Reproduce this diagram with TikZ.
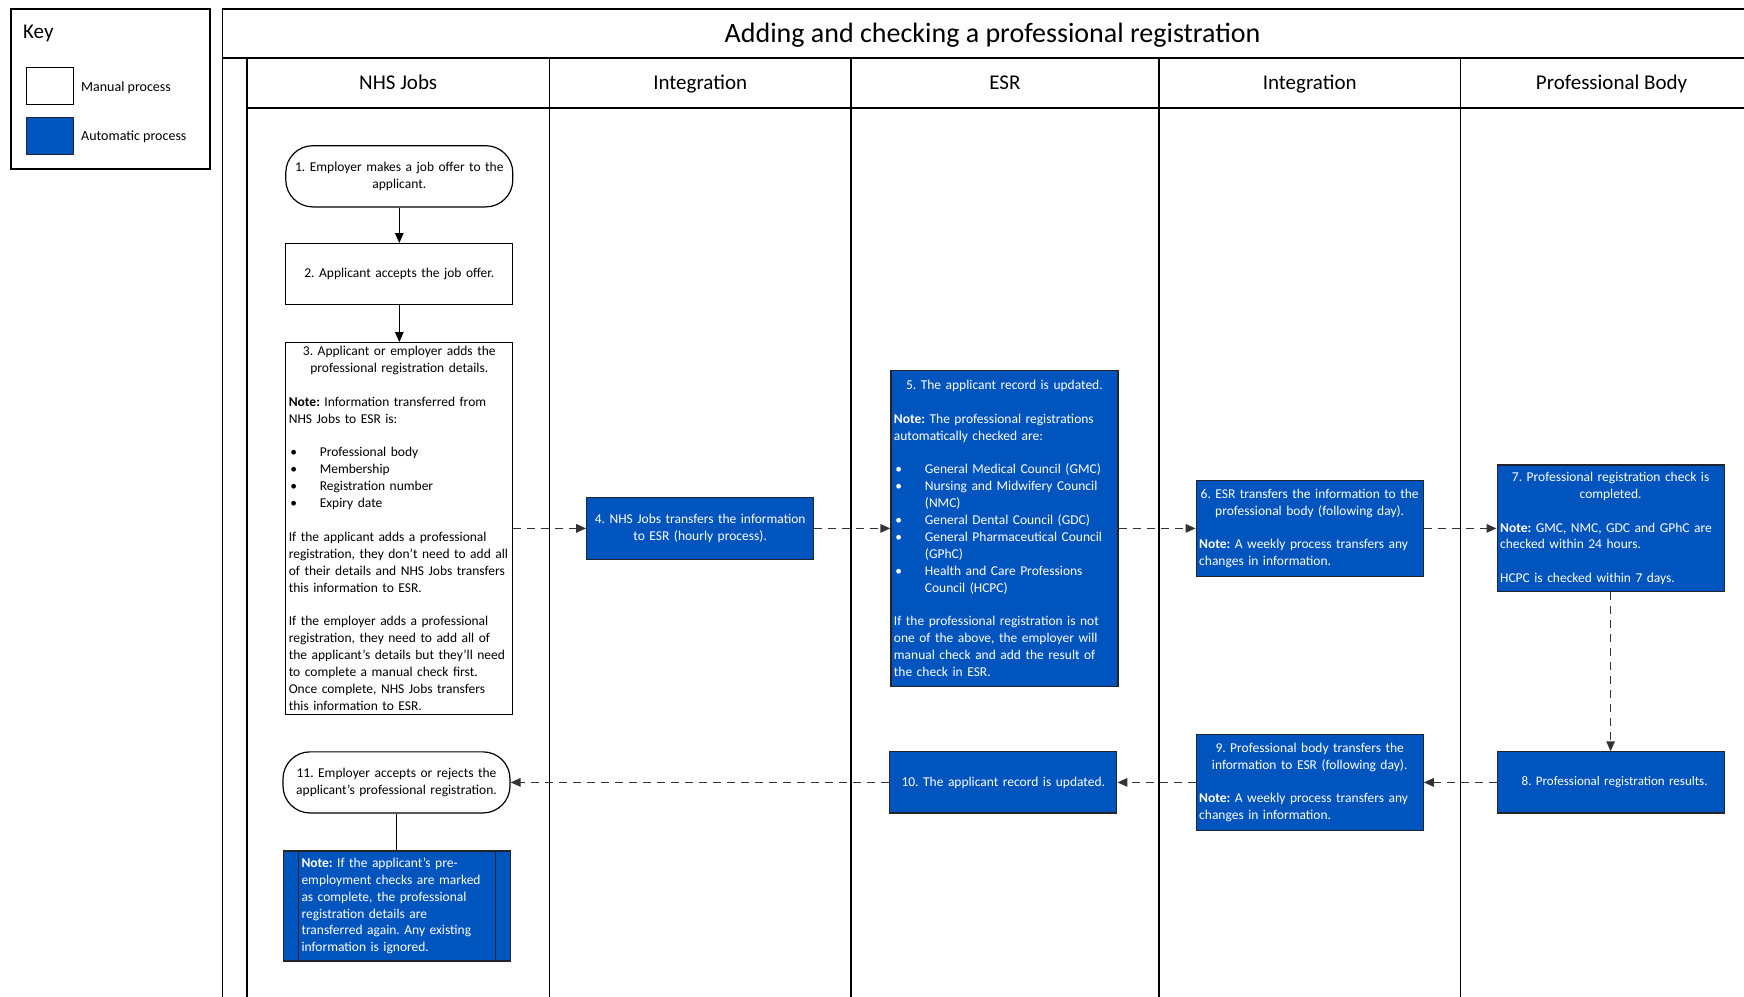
\documentclass[tikz,border=0pt]{standalone}
\usepackage{fontspec}
\setmainfont{Carlito}
\usetikzlibrary{arrows.meta}
\definecolor{autoblue}{RGB}{0,84,190}
\definecolor{edgegray}{RGB}{35,35,45}
\setlength{\parindent}{0pt}
\setlength{\parskip}{0pt}
\frenchspacing
\hyphenpenalty=10000
\exhyphenpenalty=10000
\hfuzz=20pt
\newcommand\boxfont{\fontsize{13.5pt}{16.9pt}\selectfont\hyphenpenalty=10000 }
\newcommand\blankline{\par\vspace{16.9pt}}
\newcommand\bitem[1]{\par\noindent\hangindent=31pt\hangafter=1\makebox[31pt][l]{\hspace{1.5pt}\textbullet}#1\par}
\tikzset{
  lane/.style={draw=black, line width=1.4pt},
  manual/.style={draw=black, line width=1.2pt, fill=white, text=black, inner xsep=3pt, inner ysep=0pt,
     font=\boxfont, align=left, minimum width=227pt, text width=221pt},
  autobox/.style={manual, draw=edgegray, fill=autoblue, text=white},
  stadium/.style={manual, rounded corners=27pt},
  solidarrow/.style={draw=black, line width=1.3pt, -{Triangle[length=10pt,width=8.5pt]}},
  dasharrow/.style={draw=black!80, line width=1.5pt, dash pattern=on 8pt off 6pt, -{Triangle[length=10pt,width=8.5pt]}},
  plainline/.style={draw=black, line width=1.3pt},
  lanelabel/.style={font=\fontsize{21pt}{25pt}\selectfont, inner sep=0pt, anchor=base},
  keylabel/.style={font=\fontsize{14pt}{16.9pt}\selectfont, inner sep=0pt, anchor=base west},
  swatch/.style={draw=black, line width=1.2pt, minimum width=46.7pt, minimum height=36.7pt, inner sep=0pt}
}
\begin{document}
\begin{tikzpicture}[x=1pt,y=-1pt]
\useasboundingbox (0,0) rectangle (1744,996);
\clip (0,0) rectangle (1744,996);

% ---------- Key ----------
\node[draw=black, line width=1.4pt, minimum width=199pt, minimum height=160pt, inner sep=0pt] (key) at (110.6,89) {};
\node[font=\fontsize{21pt}{25pt}\selectfont, inner sep=0pt, anchor=base west] (keytitle) at (23,38) {Key};
\node[swatch, fill=white] (swman) at (50,86.2) {};
\node[swatch, fill=autoblue, draw=edgegray] (swauto) at (50,136.2) {};
\node[keylabel] (lblman) at (81,91.5) {Manual process};
\node[keylabel] (lblauto) at (81,140.5) {Automatic process};

% ---------- Pool and lanes ----------
\draw[lane] (222.4,1010) -- (222.4,8.9) -- (1770,8.9);
\draw[lane] (222.4,57.8) -- (1770,57.8);
\draw[lane] (246.9,1010) -- (246.9,57.8);
\draw[lane] (246.9,107.9) -- (1770,107.9);
\foreach \xx in {549.4,850.9,1158.9,1460.4}{
  \draw[lane] (\xx,57.8) -- (\xx,1010);
}
\node[font=\fontsize{28pt}{33pt}\selectfont, inner sep=0pt, anchor=base] (title) at (992.6,42.5) {Adding and checking a professional registration};
\node[lanelabel] (h1) at (398.2,89.5) {NHS Jobs};
\node[lanelabel] (h2) at (700.2,89.5) {Integration};
\node[lanelabel] (h3) at (1004.9,89.5) {ESR};
\node[lanelabel] (h4) at (1309.7,89.5) {Integration};
\node[lanelabel] (h5) at (1611.6,89.5) {Professional Body};

% ---------- Process nodes ----------
\node[stadium, minimum height=61.2pt, align=center] (n1) at (399.3,176.3)
  {1. Employer makes a job offer to the\\ applicant.};
\node[manual, minimum height=61.2pt, align=center] (n2) at (399.3,274.2)
  {2. Applicant accepts the job offer.};
\node[manual, minimum height=371.5pt] (n3) at (399.3,528.4)
  {{\centering 3. Applicant or employer adds the\\ professional registration details.\par}
   \vspace{16.9pt}
   \textbf{Note:} Information transferred from\\ NHS Jobs to ESR is:
   \blankline
   \bitem{Professional body}
   \bitem{Membership}
   \bitem{Registration number}
   \bitem{Expiry date}
   \vspace{16.9pt}
   If the applicant adds a professional\\ registration, they don't need to add all\\ of their details and NHS Jobs transfers\\ this information to ESR.
   \blankline
   If the employer adds a professional\\ registration, they need to add all of\\ the applicant’s details but they’ll need\\ to complete a manual check first.\\ Once complete, NHS Jobs transfers\\ this information to ESR.};
\node[autobox, minimum height=62.3pt, align=center] (n4) at (700.2,528.4)
  {4. NHS Jobs transfers the information\\ to ESR (hourly process).};
\node[autobox, minimum height=315.9pt] (n5) at (1004.4,528.4)
  {{\centering 5. The applicant record is updated.\par}
   \vspace{16.9pt}
   \textbf{Note:} The professional registrations\\ automatically checked are:
   \blankline
   \bitem{General Medical Council (GMC)}
   \bitem{Nursing and Midwifery Council\newline (NMC)}
   \bitem{General Dental Council (GDC)}
   \bitem{General Pharmaceutical Council\newline (GPhC)}
   \bitem{Health and Care Professions\newline Council (HCPC)}
   \vspace{16.9pt}
   If the professional registration is not\\ one of the above, the employer will\\ manual check and add the result of\\ the check in ESR.};
\node[autobox, minimum height=95.6pt] (n6) at (1309.7,528.4)
  {{\centering 6. ESR transfers the information to the\\ professional body (following day).\par}
   \vspace{16.9pt}
   \textbf{Note:} A weekly process transfers any\\ changes in information.};
\node[autobox, minimum height=126.8pt] (n7) at (1610.6,528.4)
  {{\centering 7. Professional registration check is\\ completed.\par}
   \vspace{16.9pt}
   \textbf{Note:} GMC, NMC, GDC and GPhC are\\ checked within 24 hours.
   \blankline
   HCPC is checked within 7 days.};
\node[autobox, minimum height=61.1pt, align=center, font=\fontsize{13pt}{16.9pt}\selectfont] (n8) at (1610.6,782.4)
  {\hspace*{8pt}8. Professional registration results.};
\node[autobox, minimum height=95.6pt] (n9) at (1309.7,782.4)
  {{\centering 9. Professional body transfers the\\ information to ESR (following day).\par}
   \vspace{16.9pt}
   \textbf{Note:} A weekly process transfers any\\ changes in information.};
\node[autobox, minimum height=61.1pt, align=center] (n10) at (1003.3,782.4)
  {10. The applicant record is updated.};
\node[stadium, minimum height=61.1pt, align=center] (n11) at (396.5,782.4)
  {11. Employer accepts or rejects the\\ applicant’s professional registration.};
\node[autobox, minimum height=110.1pt, inner xsep=18pt, text width=191pt] (note) at (397,906)
  {\textbf{Note:} If the applicant’s pre-\\ employment checks are marked\\ as complete, the professional\\ registration details are\\ transferred again. Any existing\\ information is ignored.};
\draw[draw=edgegray, line width=1.2pt] ([xshift=15.5pt]note.north west) -- ([xshift=15.5pt]note.south west);
\draw[draw=edgegray, line width=1.2pt] ([xshift=-15.5pt]note.north east) -- ([xshift=-15.5pt]note.south east);

% ---------- Connectors ----------
\draw[solidarrow] (n1.south) -- (n2.north);
\draw[solidarrow] (n2.south) -- (n3.north);
\draw[dasharrow] (n3.east) -- (n4.west);
\draw[dasharrow] (n4.east) -- (n5.west);
\draw[dasharrow] (n5.east) -- (n6.west);
\draw[dasharrow] (n6.east) -- (n7.west);
\draw[dasharrow] (n7.south) -- (n8.north);
\draw[dasharrow] (n8.west) -- (n9.east);
\draw[dasharrow] (n9.west) -- (n10.east);
\draw[dasharrow] (n10.west) -- (n11.east);
\draw[plainline] (n11.south) -- (n11.south |- note.north);
\end{tikzpicture}
\end{document}
